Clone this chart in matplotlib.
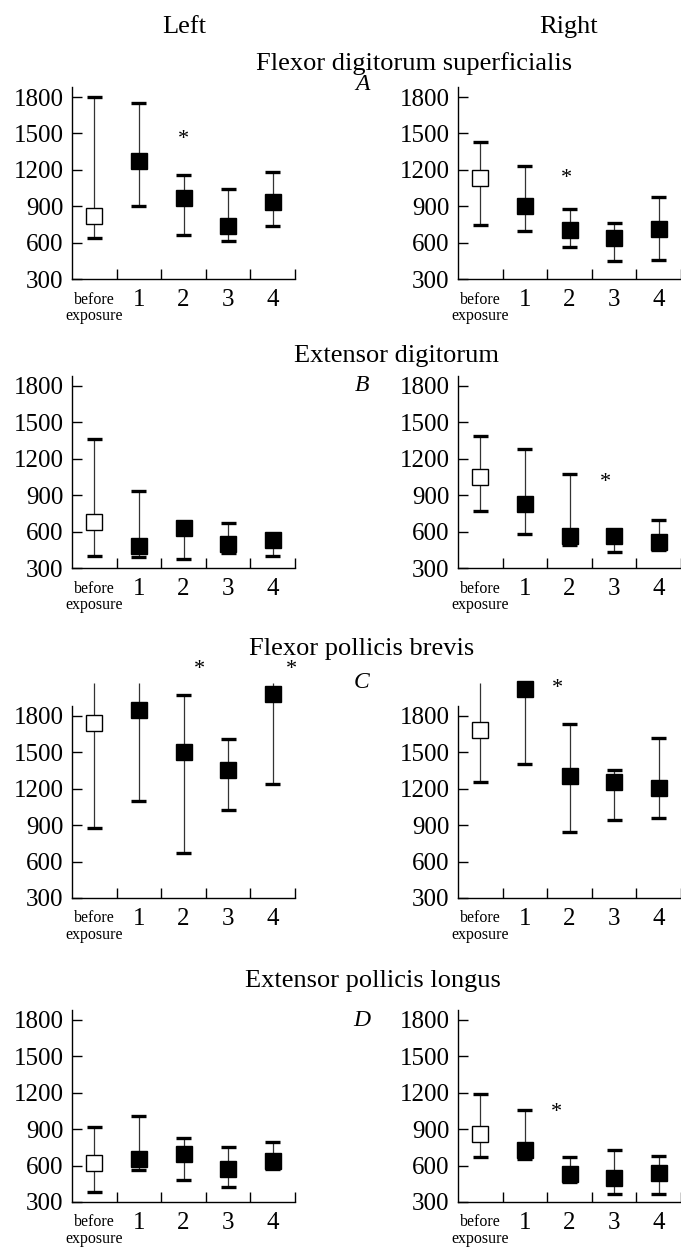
import numpy as np
import matplotlib
matplotlib.use('Agg')
import matplotlib.pyplot as plt

plt.rcParams['font.family'] = ['Liberation Serif', 'DejaVu Serif']

groups = ['before\nexposure', '1', '2', '3', '4']
yticks = [300, 600, 900, 1200, 1500, 1800]
muscles = ['Flexor digitorum superficialis', 'Extensor digitorum',
           'Flexor pollicis brevis', 'Extensor pollicis longus']
letters = ['A', 'B', 'C', 'D']

# A - flexor digitorum superficialis
fds_left_mean = [817, 1273, 965, 740, 937]
fds_left_lo = [640, 902, 663, 613, 740]
fds_left_hi = [1803, 1748, 1157, 1044, 1179]
fds_right_mean = [1135, 902, 704, 635, 712]
fds_right_lo = [745, 698, 567, 448, 457]
fds_right_hi = [1427, 1232, 877, 762, 973]

# B - extensor digitorum
ed_left_mean = [680, 483, 628, 500, 533]
ed_left_lo = [401, 390, 374, 425, 396]
ed_left_hi = [1362, 935, 680, 672, 580]
ed_right_mean = [1050, 828, 560, 560, 516]
ed_right_lo = [773, 579, 486, 431, 445]
ed_right_hi = [1387, 1280, 1075, 600, 697]

# C - flexor pollicis brevis (some upper whiskers run off the top)
fpb_left_mean = [1744, 1847, 1500, 1356, 1978]
fpb_left_lo = [880, 1097, 672, 1025, 1236]
fpb_left_hi = [2075, 2075, 1972, 1611, 2075]
fpb_left_topcap = [False, False, True, True, False]
fpb_right_mean = [1681, 2022, 1306, 1258, 1208]
fpb_right_lo = [1256, 1408, 847, 939, 958]
fpb_right_hi = [2075, 2022, 1731, 1356, 1617]
fpb_right_topcap = [False, False, True, True, True]

# D - extensor pollicis longus
epl_left_mean = [625, 652, 699, 570, 638]
epl_left_lo = [383, 561, 479, 424, 575]
epl_left_hi = [919, 1010, 831, 754, 795]
epl_right_mean = [859, 727, 534, 498, 539]
epl_right_lo = [672, 658, 465, 363, 369]
epl_right_hi = [1189, 1057, 672, 732, 680]

# significance stars: (x position, value)
stars = {
    (0, 0): [(2.5, 1446)],
    (0, 1): [(2.44, 1130)],
    (1, 1): [(3.3, 1006)],
    (2, 0): [(2.85, 2181), (4.93, 2181)],
    (2, 1): [(2.24, 2028)],
    (3, 1): [(2.2, 1038)],
}

panels = [
    [(fds_left_mean, fds_left_lo, fds_left_hi, None),
     (fds_right_mean, fds_right_lo, fds_right_hi, None)],
    [(ed_left_mean, ed_left_lo, ed_left_hi, None),
     (ed_right_mean, ed_right_lo, ed_right_hi, None)],
    [(fpb_left_mean, fpb_left_lo, fpb_left_hi, fpb_left_topcap),
     (fpb_right_mean, fpb_right_lo, fpb_right_hi, fpb_right_topcap)],
    [(epl_left_mean, epl_left_lo, epl_left_hi, None),
     (epl_right_mean, epl_right_lo, epl_right_hi, None)],
]

W, H = 681, 1249
fig = plt.figure(figsize=(W / 100, H / 100), dpi=100)

ax_left_px = [72, 458]
ax_width_px = 223
row_bottom_px = [279, 568, 898, 1202]
px_per_unit = 182 / 1500
ymax = 1880
ax_height_px = (ymax - 300) * px_per_unit


def draw(ax, mean, lo, hi, topcap):
    x = np.arange(len(mean)) + 0.5
    lo = np.array(lo)
    hi = np.array(hi)
    if topcap is None:
        topcap = [True] * len(mean)
    topcap = np.array(topcap)
    ax.vlines(x, lo, hi, color='#333333', lw=0.9, clip_on=False, zorder=2)
    ax.hlines(lo, x - 0.17, x + 0.17, color='black', lw=2.4, clip_on=False, zorder=3)
    ax.hlines(hi[topcap], x[topcap] - 0.17, x[topcap] + 0.17, color='black',
              lw=2.4, clip_on=False, zorder=3)
    ax.plot(x[:1], mean[:1], 's', mfc='white', mec='black', ms=11.5, mew=1.0,
            clip_on=False, zorder=4)
    ax.plot(x[1:], mean[1:], 's', mfc='black', mec='black', ms=11.5, mew=1.0,
            clip_on=False, zorder=4)


for r in range(4):
    for c in range(2):
        rect = [ax_left_px[c] / W, (H - row_bottom_px[r]) / H,
                ax_width_px / W, ax_height_px / H]
        ax = fig.add_axes(rect)
        mean, lo, hi, topcap = panels[r][c]
        draw(ax, mean, lo, hi, topcap)
        for sx, sy in stars.get((r, c), []):
            ax.text(sx, sy, '*', fontsize=16, ha='center', va='center',
                    clip_on=False)
        ax.set_xlim(0, 5)
        ax.set_ylim(300, ymax)
        ax.spines['top'].set_visible(False)
        ax.spines['right'].set_visible(False)
        ax.spines['left'].set_linewidth(1.0)
        ax.spines['bottom'].set_linewidth(1.0)
        ax.set_yticks(yticks)
        ax.set_yticklabels([str(v) for v in yticks], fontsize=18)
        ax.set_xticks([1, 2, 3, 4, 5])
        ax.set_xticklabels([])
        ax.set_xticks(np.arange(1, 5) + 0.5, minor=True)
        ax.set_xticklabels(groups[1:], minor=True, fontsize=18)
        ax.tick_params(axis='both', which='major', direction='in', length=7,
                       width=1.0, pad=6)
        ax.tick_params(axis='x', which='minor', length=0, pad=7)
        ax.annotate(groups[0], xy=(0.5, 0), xycoords=('data', 'axes fraction'),
                    xytext=(0, -9), textcoords='offset points', ha='center',
                    va='top', fontsize=11.5, linespacing=1.05)

fig.text(184 / W, 1 - 33 / H, 'Left', fontsize=19, ha='center', va='baseline')
fig.text(569 / W, 1 - 33 / H, 'Right', fontsize=19, ha='center', va='baseline')

title_px = [(414, 70), (397, 362), (362, 655), (373, 987)]
letter_py = [85, 385, 683, 1020]
for i in range(4):
    tx, ty = title_px[i]
    fig.text(tx / W, 1 - ty / H, muscles[i], fontsize=19, ha='center',
             va='baseline')
    fig.text(362 / W, 1 - letter_py[i] / H, letters[i], fontsize=17,
             style='italic', ha='center', va='center')

fig.savefig('out.png', dpi=100)
